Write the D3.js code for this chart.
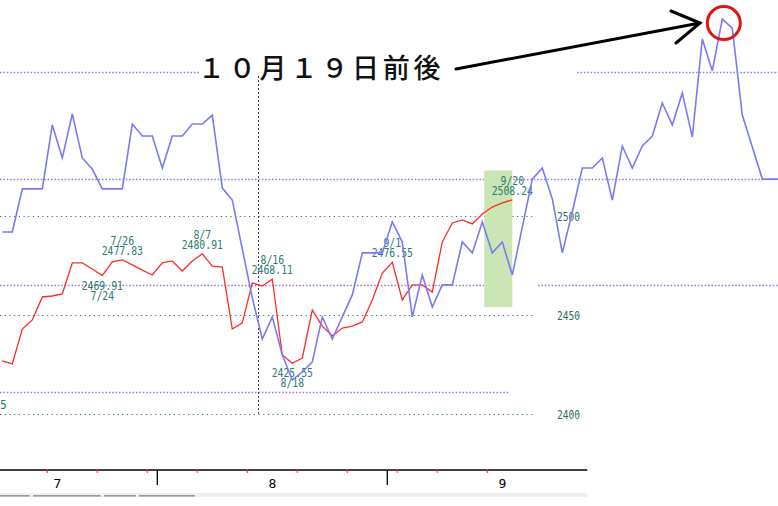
<!DOCTYPE html>
<html>
<head>
<meta charset="utf-8">
<script src="https://cdn.jsdelivr.net/npm/d3@7"></script>
<style>
  body { margin: 0; background: #fff; }
  svg { display: block; }
</style>
</head>
<body>
<svg width="778" height="506"></svg>
<script>
// red series (left chart index), one value per trading day
var redValues = [
  2426.8, 2425.3, 2442.9, 2447.5, 2459.1, 2459.6, 2460.6, 2476.3, 2476.3, 2473.2,
  2469.9, 2476.8, 2477.8, 2475.3, 2472.7, 2470.2, 2476.3, 2477.3, 2472.2, 2477.3,
  2480.9, 2474.7, 2474.2, 2442.9, 2446.0, 2466.2, 2464.6, 2468.1, 2429.8, 2425.6,
  2428.3, 2452.5, 2444.4, 2439.4, 2443.4, 2444.4, 2446.5, 2457.6, 2471.2, 2476.6,
  2457.6, 2465.2, 2465.2, 2461.6, 2486.9, 2496.5, 2498.0, 2496.0, 2501.0, 2504.5,
  2506.6, 2508.2
]

// blue overlay series (own scale, purple grid)
var blueValues = [
  13750, 13750, 13952, 13952, 13952, 14252, 14097, 14303, 14097, 14045,
  13952, 13952, 13952, 14256, 14200, 14200, 14050, 14200, 14200, 14256,
  14256, 14298, 13956, 13900, 13670, 13441, 13248, 13352, 13173, 13056,
  13094, 13141, 13352, 13248, 13352, 13455, 13652, 13652, 13652, 13797,
  13703, 13352, 13548, 13398, 13502, 13502, 13703, 13652, 13797, 13652,
  13703, 13548, 13773, 13998, 14050, 13905, 13652, 13844, 14050, 14050,
  14097, 13900, 14153, 14050, 14153, 14200, 14355, 14252, 14402, 14195,
  14655, 14505, 14748, 14706, 14298, 14148, 13998, 13998, 13998
]

var priceTicks = [2400, 2450, 2500]
var blueGrid = [13000, 13500, 14000, 14500]

// marked highs / lows on the red series
var markIndex = [10, 12, 20, 27, 29, 39, 51]
var markDates = ['7/24', '7/26', '8/7', '8/16', '8/18', '9/1', '9/20']
var markValues = ['2469.91', '2477.83', '2480.91', '2468.11', '2425.55', '2476.55', '2508.24']
var markHigh = [false, true, true, true, false, true, true]

var monthNames = ['7', '8', '9']
var monthStarts = [-4, 16, 39, 62]
var weekStarts = [5, 10, 15, 20, 25, 30, 35, 40, 44, 49]

var highlightDays = [48, 51]
var highlightRange = [2454, 2523]
var noteText = '１０月１９日前後'

var svg = d3.select('svg')

var x = d3.scaleLinear().domain([0, 1]).range([2.3, 12.3])
var yRed = d3.scaleLinear().domain([2400, 2500]).range([414, 216])
var yBlue = d3.scaleLinear().domain([13000, 14500]).range([392, 72])

var teal = '#2b7b6e'
var purple = '#8f80e8'

// purple grid of the blue overlay, broken where text sits on it
var blueGridSpans = {
  13000: [[0, 510]],
  13500: [[0, 511], [538, 778]],
  14000: [[0, 778]],
  14500: [[0, 200], [577, 778]]
}
var gPurple = svg.append('g').attr('class', 'grid-blue')
blueGrid.forEach(function (v) {
  blueGridSpans[v].forEach(function (s) {
    gPurple.append('line')
      .attr('x1', s[0]).attr('x2', s[1])
      .attr('y1', Math.round(yBlue(v)) + 0.5).attr('y2', Math.round(yBlue(v)) + 0.5)
      .attr('stroke', purple)
      .attr('stroke-width', 1.6)
      .attr('stroke-dasharray', '1.6,1.8')
  })
})

svg.append('g').attr('class', 'grid-price')
  .selectAll('line').data(priceTicks).enter().append('line')
  .attr('x1', 0).attr('x2', 535)
  .attr('y1', function (d) { return Math.round(yRed(d)) + 0.5 })
  .attr('y2', function (d) { return Math.round(yRed(d)) + 0.5 })
  .attr('stroke', teal)
  .attr('stroke-width', 1.2)
  .attr('stroke-dasharray', '1.2,3.5')

svg.append('g').attr('class', 'price-labels')
  .selectAll('text').data(priceTicks).enter().append('text')
  .attr('x', 557)
  .attr('y', function (d) { return yRed(d) + 5 })
  .attr('textLength', 23)
  .attr('lengthAdjust', 'spacingAndGlyphs')
  .attr('font-family', 'DejaVu Sans Mono, monospace')
  .attr('font-size', 12)
  .attr('fill', '#1f6e62')
  .text(function (d) { return d })

// vertical dashed marker
svg.append('line')
  .attr('x1', 258.5).attr('x2', 258.5)
  .attr('y1', 76).attr('y2', 414)
  .attr('stroke', '#444')
  .attr('stroke-dasharray', '2,2')

// green highlight
svg.append('rect')
  .attr('x', x(highlightDays[0]) + 2)
  .attr('width', x(highlightDays[1]) - x(highlightDays[0]) - 2)
  .attr('y', yRed(highlightRange[1]))
  .attr('height', yRed(highlightRange[0]) - yRed(highlightRange[1]))
  .attr('fill', '#c9e6b4')

var redLine = d3.line()
  .x(function (d, i) { return x(i) })
  .y(function (d) { return yRed(d) })

svg.append('path')
  .datum(redValues)
  .attr('d', redLine)
  .attr('fill', 'none')
  .attr('stroke', '#ff2a2a')
  .attr('stroke-width', 1.3)

// two-line labels on highs (date above) and lows (date below)
var gMarks = svg.append('g').attr('class', 'marks')
  .attr('font-family', 'DejaVu Sans Mono, monospace')
  .attr('font-size', 11.5)
  .attr('fill', teal)
markIndex.forEach(function (idx, k) {
  var px = x(idx)
  var py = yRed(redValues[idx])
  var rows = markHigh[k] ? [markDates[k], markValues[k]] : [markValues[k], markDates[k]]
  var top = markHigh[k] ? py - 15 : py + 14
  var t = gMarks.append('text').attr('text-anchor', 'middle')
  rows.forEach(function (r, j) {
    t.append('tspan')
      .attr('x', px)
      .attr('y', top + j * 10)
      .attr('textLength', r.length * 5.9)
      .attr('lengthAdjust', 'spacingAndGlyphs')
      .text(r)
  })
})
// label cut by the left edge: only its last digit shows
gMarks.append('text')
  .attr('x', 0).attr('y', 409)
  .text('5')

var blueLine = d3.line()
  .x(function (d, i) { return x(i) })
  .y(function (d) { return yBlue(d) })

svg.append('path')
  .datum(blueValues)
  .attr('d', blueLine)
  .attr('fill', 'none')
  .attr('stroke', '#7a7af6')
  .attr('stroke-width', 1.6)

// date axis
var gAxis = svg.append('g').attr('class', 'x-axis')
var axisY = 470
gAxis.append('line')
  .attr('x1', 0).attr('x2', x(58.5))
  .attr('y1', axisY).attr('y2', axisY)
  .attr('stroke', '#000').attr('stroke-width', 1.5)

gAxis.selectAll('.week').data(weekStarts).enter().append('line')
  .attr('class', 'week')
  .attr('x1', function (d) { return x(d - 0.5) })
  .attr('x2', function (d) { return x(d - 0.5) })
  .attr('y1', axisY - 1).attr('y2', axisY + 3)
  .attr('stroke', '#ff2020')

gAxis.selectAll('.month').data(monthStarts.slice(1, 3)).enter().append('line')
  .attr('class', 'month')
  .attr('x1', function (d) { return x(d - 0.5) })
  .attr('x2', function (d) { return x(d - 0.5) })
  .attr('y1', axisY).attr('y2', axisY + 15)
  .attr('stroke', '#000').attr('stroke-width', 1.3)

gAxis.selectAll('text').data(monthNames).enter().append('text')
  .attr('x', function (d, i) { return x((monthStarts[i] + monthStarts[i + 1]) / 2 - 0.5) })
  .attr('y', axisY + 18)
  .attr('text-anchor', 'middle')
  .attr('font-family', 'DejaVu Sans Mono, monospace')
  .attr('font-size', 13)
  .attr('fill', '#000')
  .text(function (d) { return d })

// scroll strip under the axis
gAxis.append('rect')
  .attr('x', 0).attr('y', 493).attr('width', x(58.5)).attr('height', 4)
  .attr('fill', '#efefef')
var barSegs = [[0, 29.5], [33, 100.6], [104, 135.8], [139, 195]]
gAxis.selectAll('.seg').data(barSegs).enter().append('rect')
  .attr('class', 'seg')
  .attr('x', function (d) { return d[0] })
  .attr('width', function (d) { return d[1] - d[0] })
  .attr('y', 495).attr('height', 1.6)
  .attr('fill', '#999')

// annotation
svg.append('text')
  .attr('x', 198).attr('y', 78)
  .attr('font-family', 'Noto Sans CJK JP, sans-serif')
  .attr('font-size', 27)
  .attr('font-weight', 500)
  .attr('letter-spacing', 3.8)
  .attr('fill', '#111')
  .text(noteText)

var arrow = svg.append('g')
  .attr('stroke', '#000').attr('stroke-width', 3).attr('fill', 'none')
  .attr('stroke-linecap', 'round')
arrow.append('line').attr('x1', 456).attr('y1', 69).attr('x2', 700).attr('y2', 23)
arrow.append('polyline').attr('points', '671,11 700,23 676,43')

var peak = d3.maxIndex(blueValues)
svg.append('circle')
  .attr('cx', x(peak) + 1.5).attr('cy', yBlue(blueValues[peak]) + 4)
  .attr('r', 16.5)
  .attr('fill', 'none')
  .attr('stroke', '#e01414')
  .attr('stroke-width', 3)
</script>
</body>
</html>
